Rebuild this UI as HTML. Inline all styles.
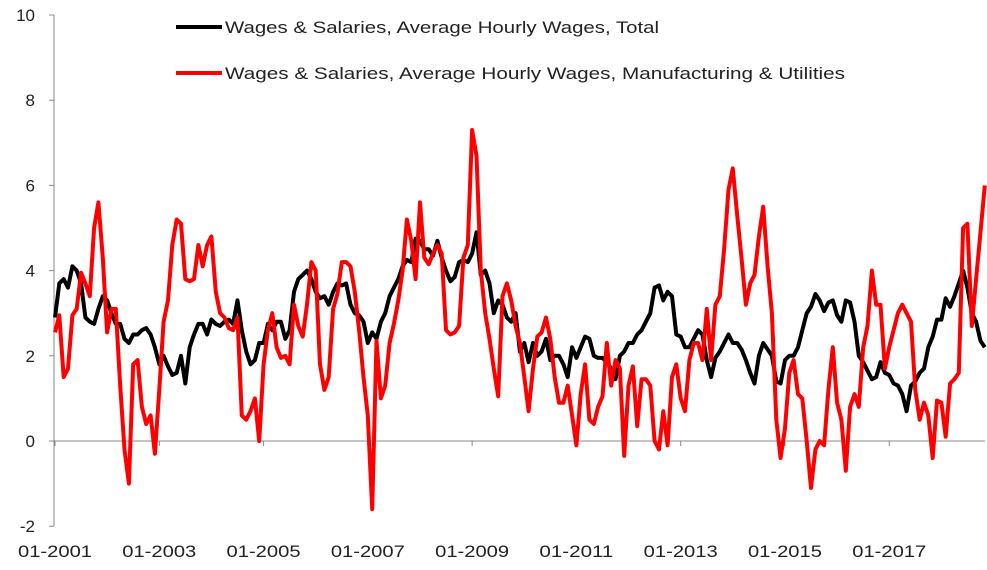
<!DOCTYPE html>
<html><head><meta charset="utf-8"><style>
html,body{margin:0;padding:0;background:#fff;}
svg{display:block;font-family:"Liberation Sans",Arial,sans-serif;}
</style></head><body>
<svg id="chart" width="987" height="570" viewBox="0 0 987 570" xmlns="http://www.w3.org/2000/svg">
<g id="axes"></g>
<g id="series"></g>
<g id="legend">
 <line x1="176" y1="27" x2="222" y2="27" stroke="#000" stroke-width="4"/>
 <text x="225" y="33" font-size="17" fill="#222" textLength="434" lengthAdjust="spacingAndGlyphs">Wages &amp; Salaries, Average Hourly Wages, Total</text>
 <line x1="176" y1="73" x2="222" y2="73" stroke="#ff0000" stroke-width="4"/>
 <text x="225" y="79" font-size="17" fill="#222" textLength="620" lengthAdjust="spacingAndGlyphs">Wages &amp; Salaries, Average Hourly Wages, Manufacturing &amp; Utilities</text>
</g>
</svg>
<script>
const yTicks = [10, 8, 6, 4, 2, 0, -2];
const xTickLabels = ["01-2001","01-2003","01-2005","01-2007","01-2009","01-2011","01-2013","01-2015","01-2017"];
const xTickMonths = [0, 24, 48, 72, 96, 120, 144, 168, 192];
const totalWages = [
2.9,3.7,3.8,3.6,4.1,4.0,3.7,2.9,2.8,2.75,3.1,3.4,3.3,3.0,2.75,2.75,2.4,2.3,2.5,2.5,2.6,2.65,2.5,2.2,
1.8,2.0,1.75,1.55,1.6,2.0,1.35,2.2,2.5,2.75,2.75,2.5,2.85,2.75,2.7,2.8,2.85,2.75,3.3,2.6,2.1,1.8,1.9,2.3,
2.3,2.75,2.6,2.8,2.8,2.4,2.6,3.5,3.8,3.9,4.0,3.8,3.5,3.35,3.4,3.2,3.5,3.7,3.65,3.7,3.2,3.0,2.95,2.8,
2.3,2.55,2.4,2.8,3.0,3.4,3.6,3.8,4.1,4.25,4.2,4.75,4.7,4.5,4.5,4.35,4.7,4.3,4.0,3.75,3.85,4.2,4.25,4.2,
4.4,4.9,3.9,4.0,3.7,3.0,3.3,3.2,2.9,2.8,3.0,2.1,2.3,1.85,2.3,2.0,2.1,2.4,1.9,2.0,2.0,1.8,1.5,2.2,
1.95,2.2,2.45,2.4,2.0,1.95,1.95,1.85,1.7,1.45,2.0,2.1,2.3,2.3,2.5,2.6,2.8,3.0,3.6,3.65,3.3,3.5,3.4,2.5,
2.45,2.2,2.2,2.4,2.6,2.5,1.9,1.5,1.95,2.1,2.3,2.5,2.3,2.3,2.15,1.9,1.6,1.35,2.0,2.3,2.15,2.0,1.4,1.35,
1.9,2.0,2.0,2.2,2.6,3.0,3.15,3.45,3.3,3.05,3.25,3.3,2.95,2.8,3.3,3.25,2.8,2.0,1.85,1.65,1.45,1.5,1.85,1.6,
1.55,1.35,1.3,1.1,0.7,1.3,1.4,1.6,1.7,2.2,2.45,2.85,2.85,3.35,3.15,3.4,3.7,4.0,3.6,3.0,2.8,2.35,2.2];
const manufWages = [
2.55,2.95,1.5,1.7,2.95,3.1,3.95,3.7,3.4,5.0,5.6,4.3,2.55,3.1,3.1,1.3,-0.2,-1.0,1.8,1.9,0.8,0.4,0.6,-0.3,
1.2,2.8,3.3,4.6,5.2,5.1,3.8,3.75,3.8,4.6,4.1,4.6,4.8,3.5,3.0,2.9,2.65,2.6,2.9,0.6,0.5,0.7,1.0,0.0,
1.8,2.6,3.0,2.2,1.95,2.0,1.8,3.2,2.7,2.45,3.2,4.2,4.0,1.8,1.2,1.5,3.1,3.45,4.2,4.2,4.1,3.5,2.6,1.5,
0.6,-1.6,2.35,1.0,1.3,2.3,2.75,3.3,4.0,5.2,4.7,3.8,5.6,4.3,4.15,4.4,4.6,4.4,2.6,2.5,2.55,2.7,4.3,4.6,
7.3,6.7,4.0,3.0,2.4,1.7,1.05,3.4,3.7,3.3,2.7,2.3,1.5,0.7,1.7,2.45,2.55,2.9,2.4,1.5,0.9,0.9,1.3,0.6,
-0.1,1.1,1.8,0.5,0.4,0.8,1.05,2.3,1.3,1.9,1.7,-0.35,1.3,1.75,0.35,1.45,1.45,1.3,0.0,-0.2,0.7,-0.1,1.5,1.8,
1.0,0.7,1.9,2.3,2.3,1.9,3.1,1.9,3.2,3.4,4.5,5.9,6.4,5.3,4.3,3.2,3.7,3.9,4.8,5.5,4.1,3.0,0.5,-0.4,
0.3,1.6,1.9,1.1,1.0,0.0,-1.1,-0.2,0.0,-0.1,1.2,2.2,0.9,0.5,-0.7,0.8,1.1,0.8,2.2,2.7,4.0,3.2,3.2,1.7,
2.2,2.6,3.0,3.2,3.0,2.8,1.2,0.5,0.9,0.6,-0.4,0.95,0.9,0.1,1.35,1.45,1.6,5.0,5.1,2.7,3.8,4.9,6.0];

const NS = "http://www.w3.org/2000/svg";
const X0 = 55, MPX = 4.345, Y0 = 441, UPX = 42.6;
function xScale(m){ return X0 + m * MPX; }
function yScale(v){ return Y0 - v * UPX; }
function mk(tag, attrs, parent){ const e = document.createElementNS(NS, tag); for (const k in attrs) e.setAttribute(k, attrs[k]); parent.appendChild(e); return e; }

const axes = document.getElementById('axes');
const yAxis = mk('line', {x1:54, y1:yScale(10), x2:54, y2:yScale(-2), stroke:'#888', 'stroke-width':1}, axes);


yTicks.forEach(v => {
  const t = mk('line', {x1:49, y1:yScale(v), x2:54, y2:yScale(v), stroke:'#888', 'stroke-width':1}, axes);
  
  
  const l = mk('text', {x:35, y:yScale(v)+6, 'font-size':17, 'text-anchor':'end', fill:'#222'}, axes);
  l.textContent = v;
  
  
});
const zero = mk('line', {x1:54, y1:yScale(0), x2:985, y2:yScale(0), stroke:'#888', 'stroke-width':1}, axes);


xTickMonths.forEach((m, i) => {
  const t = mk('line', {x1:xScale(m), y1:yScale(0), x2:xScale(m), y2:yScale(0)+5, stroke:'#888', 'stroke-width':1}, axes);
  
  
  const l = mk('text', {x:xScale(m)-37, y:557, 'font-size':17, fill:'#222', textLength:74, lengthAdjust:'spacingAndGlyphs'}, axes);
  l.textContent = xTickLabels[i];
  
  
});

const series = document.getElementById('series');
function drawLine(arr, color, name){
  const pts = arr.map((v, i) => xScale(i).toFixed(1) + ',' + yScale(v).toFixed(1)).join(' ');
  const p = mk('polyline', {points:pts, fill:'none', stroke:color, 'stroke-width':4, 'stroke-linejoin':'round'}, series);
  
  
}
drawLine(totalWages, '#000', 'total-wages-line');
drawLine(manufWages, '#ff0000', 'manufacturing-wages-line');
</script>
</body></html>
